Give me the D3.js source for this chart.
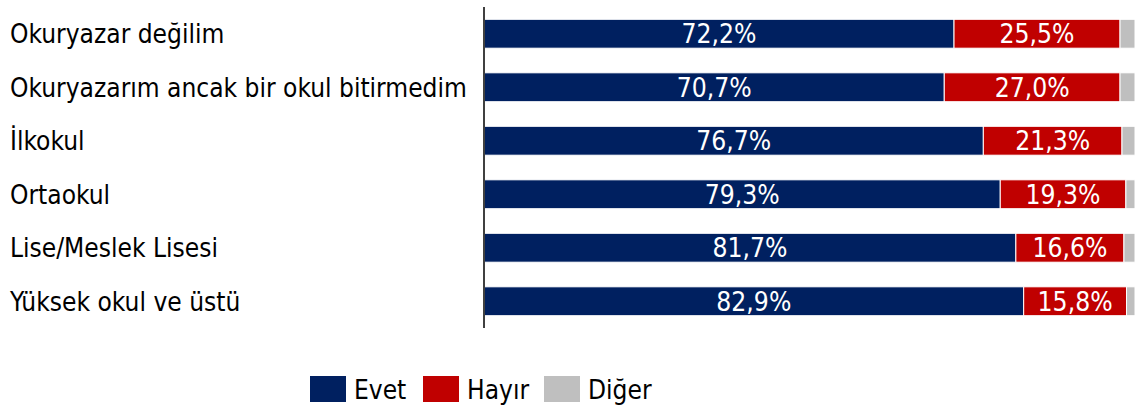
<!DOCTYPE html>
<html><head><meta charset="utf-8">
<script src="https://cdn.jsdelivr.net/npm/d3@7"></script>
<style>body{margin:0;background:#fff}svg{display:block}text{font-family:"DejaVu Sans Condensed","DejaVu Sans",Verdana,sans-serif}</style>
</head><body><svg id="c" width="1135" height="406"></svg>
<script>
const categories = ["Okuryazar değilim","Okuryazarım ancak bir okul bitirmedim","İlkokul","Ortaokul","Lise/Meslek Lisesi","Yüksek okul ve üstü"];
const seriesNames = ["Evet","Hayır","Diğer"];
const evet = [72.2,70.7,76.7,79.3,81.7,82.9];
const hayir = [25.5,27.0,21.3,19.3,16.6,15.8];
const diger = [2.3,2.3,2.0,1.4,1.7,1.3];
const colors = ["#002060","#C00000","#BFBFBF"];

const svg = d3.select("#c");
const rows = categories.map((c,i)=>({cat:c, Evet:evet[i], "Hayır":hayir[i], "Diğer":diger[i]}));
const stack = d3.stack().keys(seriesNames)(rows);
const x = d3.scaleLinear().domain([0,100]).range([484,1135]);
const y = d3.scaleBand().domain(categories).range([7,328]).paddingInner(0.46).paddingOuter(0.23);
const color = d3.scaleOrdinal().domain(seriesNames).range(colors);

const g = svg.append("g");
const valTexts = [];
stack.forEach(s=>{
  const sg = g.append("g");
  sg.selectAll("rect").data(s).join("rect")
    .attr("x",d=>x(d[0])).attr("y",d=>y(d.data.cat))
    .attr("width",d=>x(d[1])-x(d[0])).attr("height",y.bandwidth())
    .attr("fill",color(s.key)).attr("stroke","#fff").attr("stroke-width",1);
  if(s.key!=="Diğer"){
    const t = sg.selectAll("text").data(s).join("text")
      .attr("x",d=>(x(d[0])+x(d[1]))/2).attr("y",d=>y(d.data.cat)+y.bandwidth()/2)
      .attr("dy","0.36em").attr("text-anchor","middle").attr("fill","#fff")
      .attr("font-size",20)
      .text(d=>(d[1]-d[0]).toFixed(1).replace(".",",")+"%");
    valTexts.push(t);
  }
});
// fit value label size: "72,2%" ≈ 75px wide
const w0 = valTexts[0].node().getComputedTextLength();
const vfs = 20*75/w0;
valTexts.forEach(t=>t.attr("font-size",vfs));

// axis line
svg.append("line").attr("x1",484).attr("x2",484).attr("y1",7).attr("y2",328)
  .attr("stroke","#404040").attr("stroke-width",2);

// category labels
const labels = svg.append("g").selectAll("text").data(categories).join("text")
  .attr("x",10).attr("y",d=>y(d)+y.bandwidth()/2).attr("dy","0.36em")
  .attr("fill","#000").attr("font-size",20).text(d=>d);
let maxW = 0; labels.each(function(){maxW=Math.max(maxW,this.getComputedTextLength());});
const fs = 20*457/maxW;
labels.attr("font-size",fs);

// legend
const legX = [310,423,544];
const leg = svg.append("g");
seriesNames.forEach((n,i)=>{
  leg.append("rect").attr("x",legX[i]).attr("y",376).attr("width",36).attr("height",26).attr("fill",colors[i]);
  leg.append("text").attr("x",legX[i]+44).attr("y",399).attr("font-size",fs).attr("fill","#000").text(n);
});
</script></body></html>
